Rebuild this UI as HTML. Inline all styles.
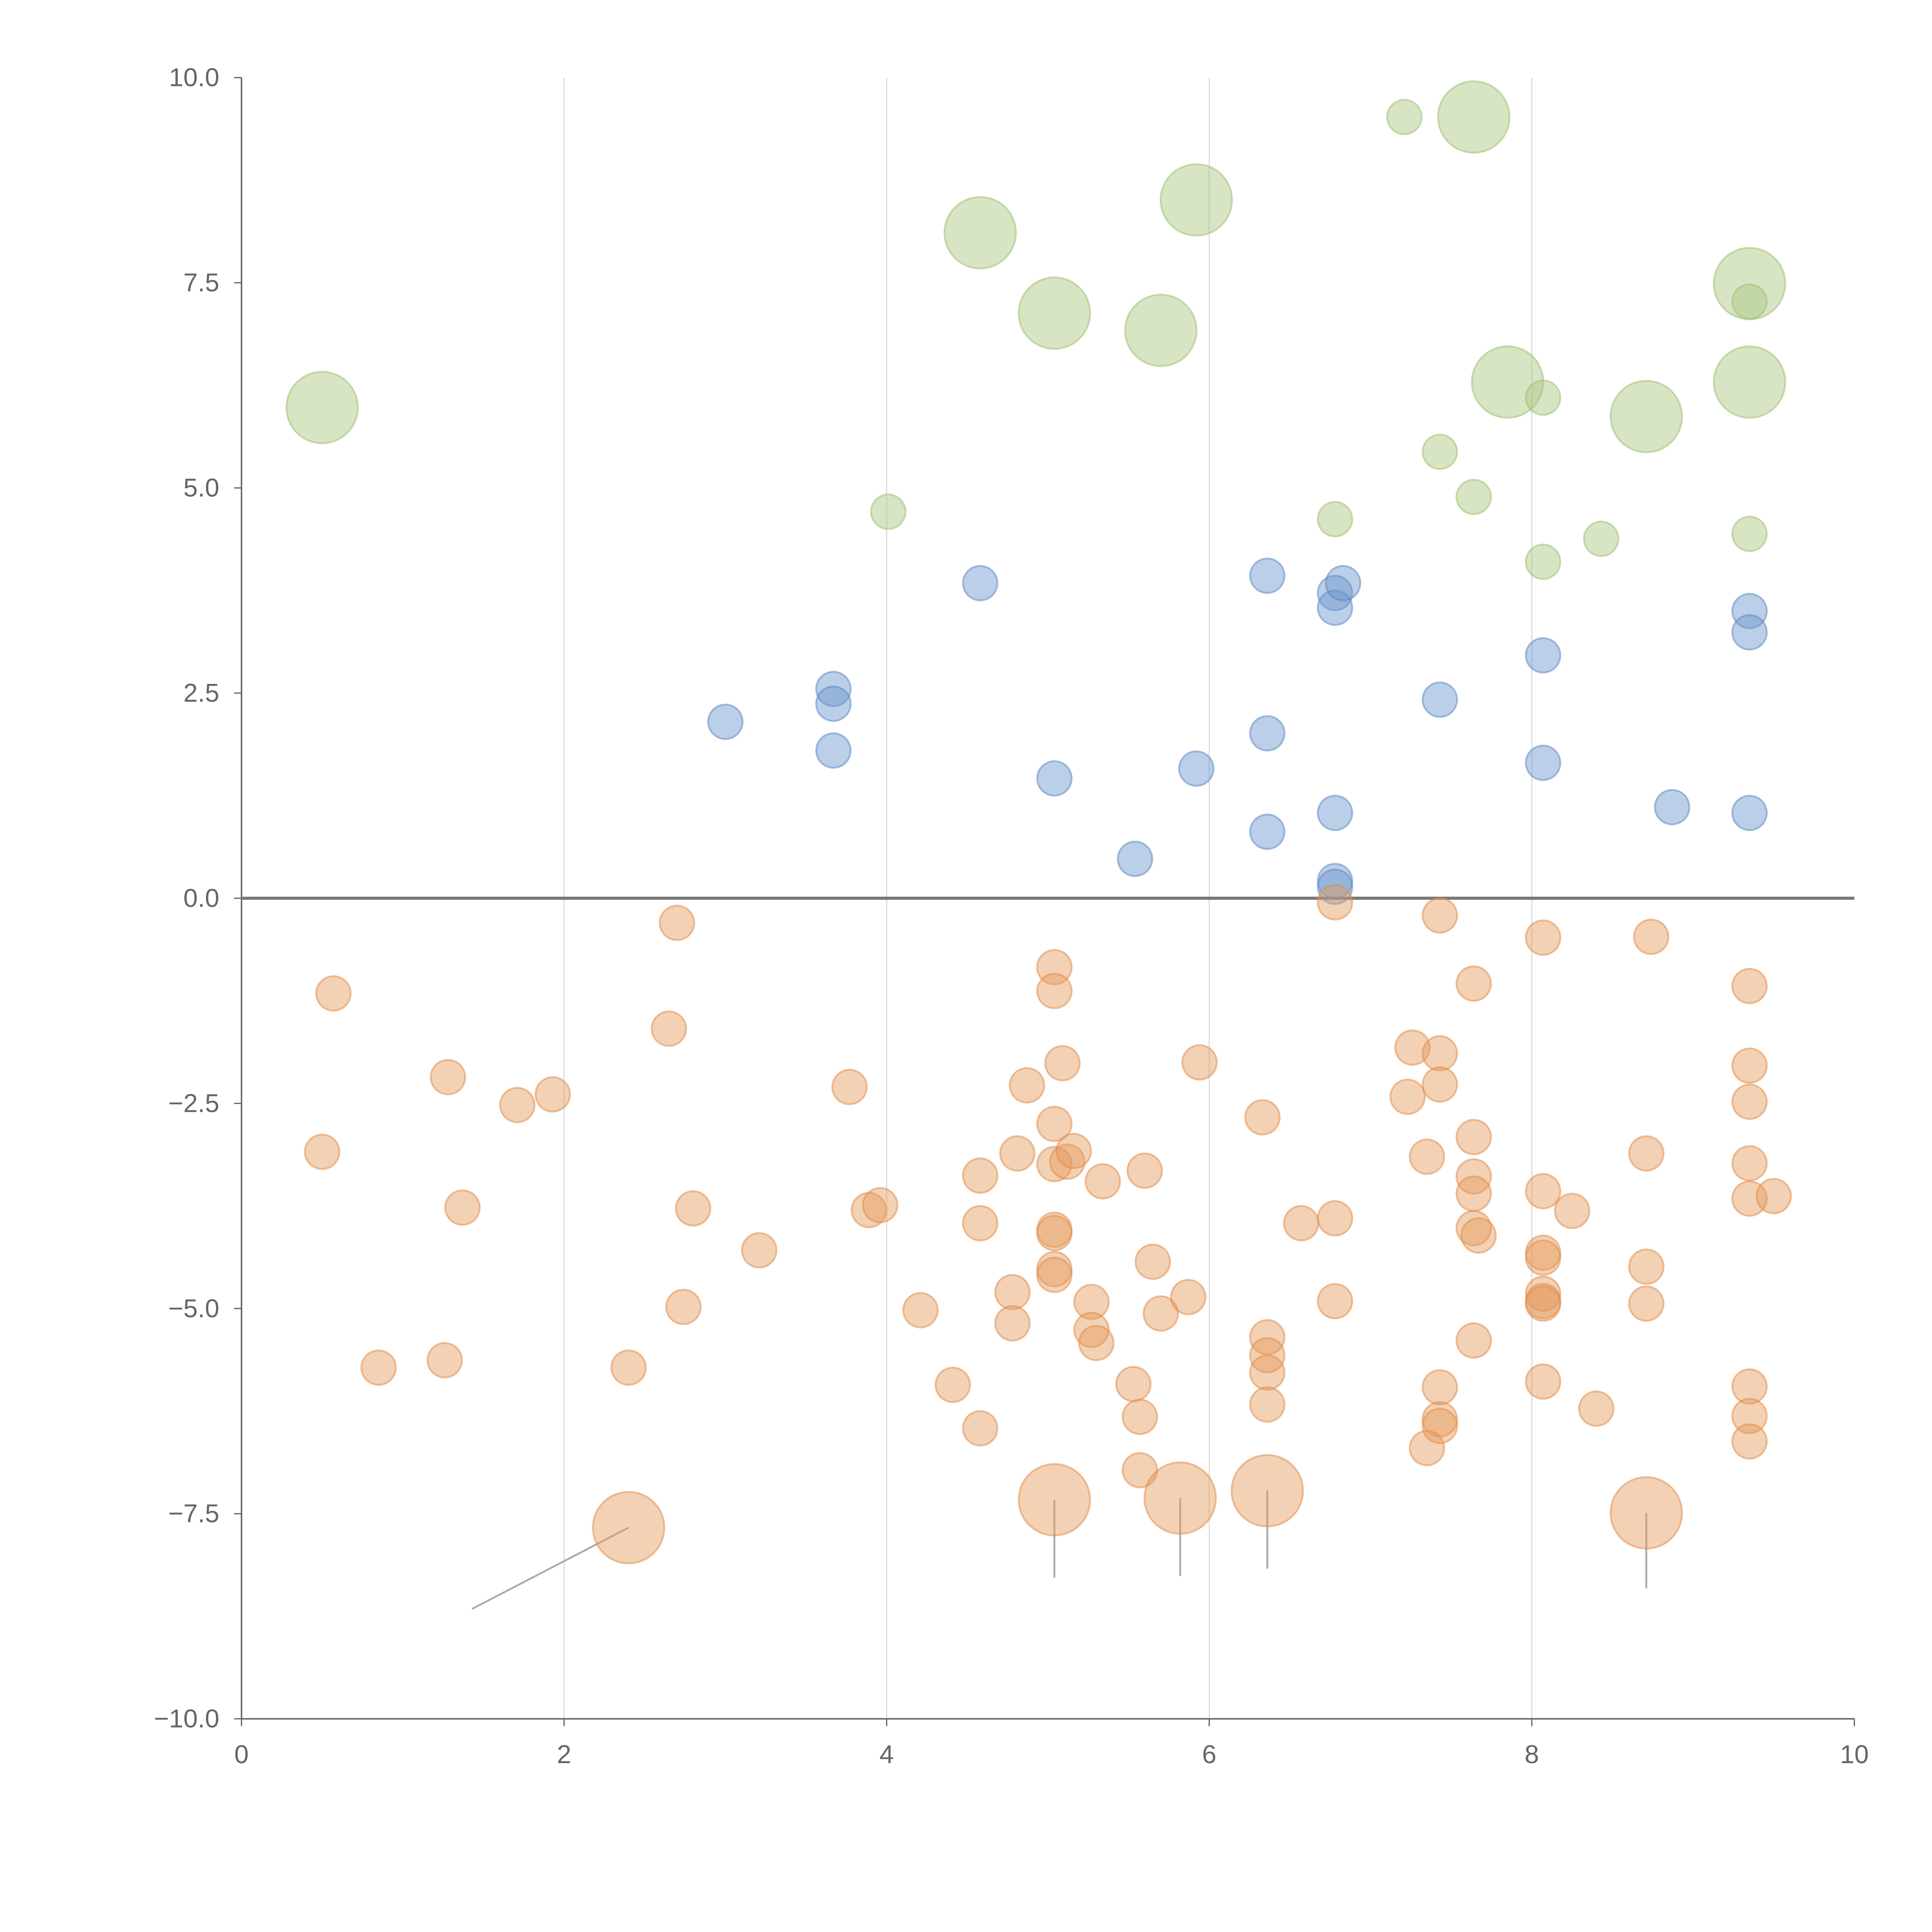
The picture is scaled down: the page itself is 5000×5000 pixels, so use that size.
<!DOCTYPE html>
<html><head><meta charset="utf-8"><style>
html,body{margin:0;padding:0;background:#fff;}
svg{display:block;}
text{font-family:"Liberation Sans",sans-serif;fill:#666;}
</style></head><body>
<svg id="chart" width="5000" height="5000" viewBox="0 0 1568 1568" xmlns="http://www.w3.org/2000/svg">
<g id="grid"></g>
<g id="axes"></g>
<g id="leaders"></g>
<g id="points"></g>
</svg>
<script>
const xTicks=[0,2,4,6,8,10];
const yTicks=[10,7.5,5,2.5,0,-2.5,-5,-7.5,-10];
const yTickLabels=["10.0","7.5","5.0","2.5","0.0","\u22122.5","\u22125.0","\u22127.5","\u221210.0"];
const greenSmallX=[7.21,7.43,7.64,6.78,4.01,8.07,8.07,8.43,9.35,9.35];
const greenSmallY=[9.52,5.44,4.89,4.62,4.71,6.10,4.10,4.38,4.44,7.27];
const greenBigX=[0.50,4.58,5.04,5.70,5.92,7.64,7.85,8.71,9.35,9.35];
const greenBigY=[5.98,8.11,7.13,6.92,8.51,9.52,6.29,5.87,7.49,6.29];
const blueX=[3.00,3.67,3.67,3.67,4.58,5.04,5.54,5.92,6.36,6.36,6.36,6.78,6.78,6.78,6.78,6.78,6.83,7.43,8.07,8.07,8.87,9.35,9.35,9.35];
const blueY=[2.15,2.55,2.37,1.80,3.84,1.46,0.48,1.58,3.93,2.01,0.81,1.04,0.21,0.14,3.72,3.54,3.84,2.42,2.96,1.65,1.11,3.50,3.24,1.04];
const orangeX=[0.57,0.50,1.28,1.37,1.71,1.93,0.85,1.26,2.40,2.70,2.65,2.80,2.74,3.21,3.77,3.89,3.96,4.21,4.41,4.58,4.58,4.58,4.78,4.78,4.81,4.87,5.04,5.04,5.04,5.04,5.04,5.04,5.04,5.04,5.09,5.12,5.16,5.27,5.27,5.30,5.34,5.53,5.57,5.57,5.60,5.65,5.70,5.87,5.94,6.33,6.36,6.36,6.36,6.36,6.57,6.78,6.78,6.78,7.23,7.26,7.35,7.35,7.43,7.43,7.43,7.43,7.43,7.43,7.64,7.64,7.64,7.64,7.64,7.67,7.64,8.07,8.07,8.07,8.07,8.07,8.07,8.07,8.07,8.25,8.40,8.71,8.71,8.71,8.74,9.35,9.35,9.35,9.35,9.35,9.50,9.35,9.35,9.35];
const orangeY=[-1.16,-3.09,-2.18,-3.77,-2.52,-2.39,-5.72,-5.63,-5.72,-0.30,-1.59,-3.78,-4.98,-4.29,-2.30,-3.80,-3.74,-5.02,-5.93,-3.38,-3.96,-6.46,-4.80,-5.18,-3.11,-2.28,-0.84,-1.13,-2.75,-3.24,-4.04,-4.08,-4.52,-4.59,-2.01,-3.21,-3.08,-4.92,-5.26,-5.42,-3.45,-5.92,-6.32,-6.97,-3.32,-4.43,-5.06,-4.86,-2.00,-2.67,-5.35,-5.57,-5.78,-6.17,-3.96,-0.05,-3.90,-4.91,-2.42,-1.82,-3.15,-6.70,-0.21,-1.89,-2.27,-5.96,-6.35,-6.43,-1.04,-2.91,-3.39,-3.60,-4.02,-4.11,-5.39,-0.48,-3.57,-4.32,-4.38,-4.82,-4.91,-4.94,-5.89,-3.81,-6.22,-3.11,-4.49,-4.94,-0.47,-1.07,-2.04,-2.48,-3.23,-3.66,-3.63,-5.95,-6.31,-6.62];
const orangeBigX=[2.40,5.04,5.82,6.36,8.71];
const orangeBigY=[-7.67,-7.33,-7.31,-7.22,-7.49];
const leaderEndX=[1.43,5.04,5.82,6.36,8.71];
const leaderEndY=[-8.66,-8.28,-8.26,-8.17,-8.41];

const X0=196,X1=1505,Y0=1395,Y1=63;
const sx=v=>X0+(v-0)/(10-0)*(X1-X0);
const sy=v=>Y0-(v+10)/20*(Y0-Y1);
const NS="http://www.w3.org/2000/svg";
function mk(tag,parent,attrs){const e=document.createElementNS(NS,tag);for(const k in attrs)e.setAttribute(k,attrs[k]);parent.appendChild(e);return e;}
const grid=document.getElementById('grid'),axes=document.getElementById('axes'),pts=document.getElementById('points'),lead=document.getElementById('leaders');

xTicks.forEach(t=>{
  if(t>0&&t<10){const g=mk('line',grid,{x1:sx(t),x2:sx(t),y1:Y1,y2:Y0,stroke:'#ddd','stroke-width':1});
  
  }
  const tk=mk('line',axes,{x1:sx(t),x2:sx(t),y1:Y0,y2:Y0+6,stroke:'#666','stroke-width':1});
  
  
  const tx=mk('text',axes,{x:sx(t),y:Y0+36,'text-anchor':'middle','font-size':21});
  tx.textContent=String(t);
  
  
});
yTicks.forEach((t,i)=>{
  const tk=mk('line',axes,{x1:X0-6,x2:X0,y1:sy(t),y2:sy(t),stroke:'#666','stroke-width':1});
  
  
  const tx=mk('text',axes,{x:X0-18,y:sy(t)+7,'text-anchor':'end','font-size':21});
  tx.textContent=yTickLabels[i];
  
  
});
const ya=mk('line',axes,{x1:X0,x2:X0,y1:Y1,y2:Y0,stroke:'#666','stroke-width':1.2});


const xa=mk('line',axes,{x1:X0,x2:X1,y1:Y0,y2:Y0,stroke:'#666','stroke-width':1.2});


const zl=mk('line',axes,{x1:X0,x2:X1,y1:sy(0),y2:sy(0),stroke:'#777','stroke-width':2.5});



orangeBigX.forEach((x,i)=>{
  const l=mk('line',lead,{x1:sx(x),y1:sy(orangeBigY[i]),x2:sx(leaderEndX[i]),y2:sy(leaderEndY[i]),stroke:'#aaa','stroke-width':1.5});
  
  
});

function dots(xs,ys,r,fill,stroke,name){
  xs.forEach((x,i)=>{
    const c=mk('circle',pts,{cx:sx(x),cy:sy(ys[i]),r:r,fill:fill,'fill-opacity':0.45,stroke:stroke,'stroke-opacity':0.5,'stroke-width':1.5});
    
    
  });
}
dots(greenBigX,greenBigY,29,'#a8c57c','#9dbd6e','green-large-bubble');
dots(greenSmallX,greenSmallY,14,'#a8c57c','#9dbd6e','green-bubble');
dots(blueX,blueY,14,'#6b94cc','#5a86c2','blue-bubble');
dots(orangeX,orangeY,14,'#e49a5c','#e08a45','orange-bubble');
dots(orangeBigX,orangeBigY,29,'#e49a5c','#e08a45','orange-large-bubble');
</script>
</body></html>
